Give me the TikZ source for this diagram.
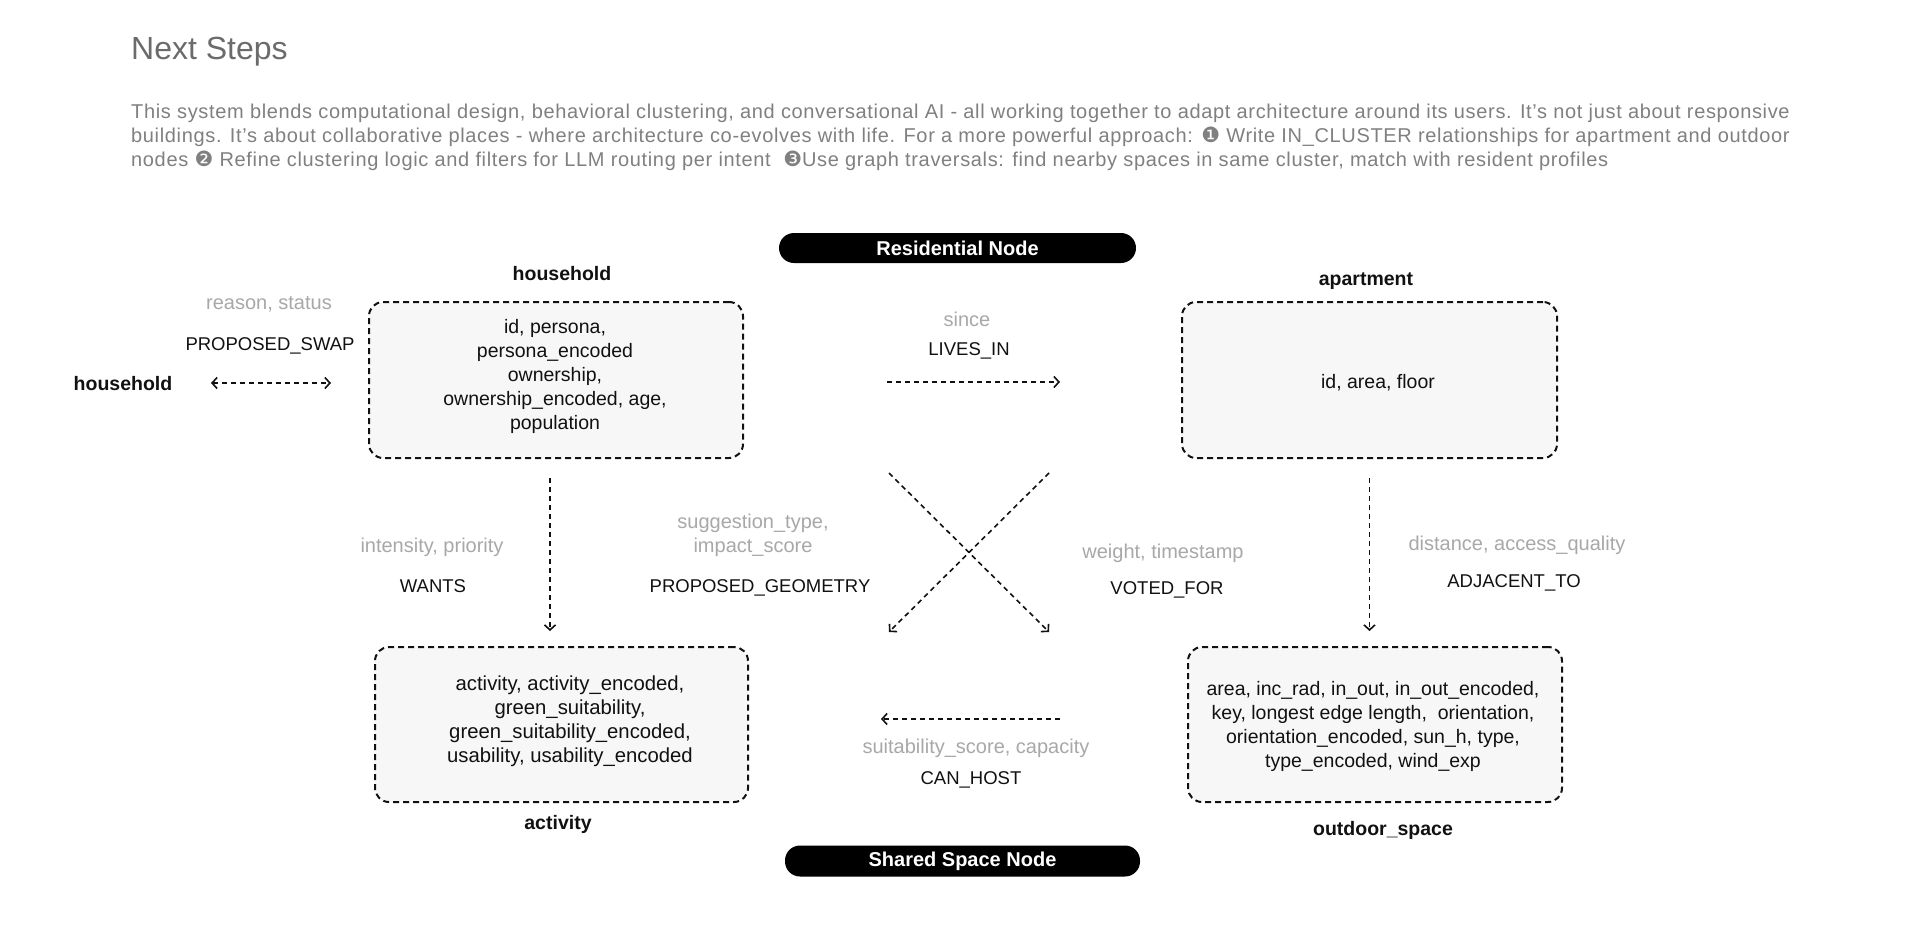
\documentclass[tikz,border=0pt]{standalone}
\usepackage{fontspec}
\setmainfont{Liberation Sans}
\newfontfamily\dejavu{DejaVu Sans}
\newfontfamily\parafont{Liberation Sans}[LetterSpace=3.3]
\usetikzlibrary{arrows.meta}
\definecolor{ink}{HTML}{111111}
\definecolor{propgray}{HTML}{A8A8A8}
\definecolor{paragray}{HTML}{808080}
\definecolor{titlegray}{HTML}{6B6B6B}
\definecolor{boxfill}{HTML}{F7F7F7}
\pgfdeclarelayer{background}
\pgfsetlayers{background,main}
\begin{document}
\begin{tikzpicture}[x=1pt,y=-1pt,
  entity/.style={draw=ink, line width=2pt, dash pattern=on 6pt off 4pt, rounded corners=14pt, fill=boxfill, inner sep=0pt},
  boxtext/.style={align=center, text=ink, inner sep=0pt, font=\fontsize{19.5}{24}\selectfont},
  entlabel/.style={anchor=base, text=ink, inner sep=0pt, font=\fontsize{19.5}{23}\selectfont\bfseries},
  relname/.style={anchor=base, text=ink, inner sep=0pt, font=\fontsize{18.5}{22}\selectfont},
  proplabel/.style={anchor=base, text=propgray, inner sep=0pt, font=\fontsize{20}{24}\selectfont},
  pill/.style={fill=black, rounded corners=15pt, text=white, inner sep=0pt, font=\fontsize{20}{23}\selectfont\bfseries},
  rel/.style={draw=ink, line width=1.6pt, dash pattern=on 5pt off 4pt, -{Straight Barb[length=5pt,width=11pt]}},
  relboth/.style={rel, {Straight Barb[length=5pt,width=11pt]}-{Straight Barb[length=5pt,width=11pt]}},
  para/.style={anchor=base west, text=paragray, inner sep=0pt, font=\parafont\fontsize{20}{24}\selectfont},
]
\useasboundingbox[fill=white] (0,0) rectangle (1920,926);

% heading and paragraph
\node[anchor=base west, text=titlegray, inner sep=0pt, font=\fontsize{32}{36}\selectfont] (title) at (131,59) {Next Steps};
\node[para] (p1) at (131,118) {This system blends computational design, behavioral clustering, and conversational AI - all working together to adapt architecture around its users. It’s not just about responsive};
\node[para] (p2) at (131,142) {buildings. It’s about collaborative places - where architecture co-evolves with life. For a more powerful approach: {\dejavu\fontsize{21}{24}\selectfont ❶} Write IN\_CLUSTER relationships for apartment and outdoor};
\node[para] (p3) at (131,166) {nodes {\dejavu\fontsize{21}{24}\selectfont ❷} Refine clustering logic and filters for LLM routing per intent\ \ {\dejavu\fontsize{21}{24}\selectfont ❸}Use graph traversals: find nearby spaces in same cluster, match with resident profiles};

% pills
\node[pill, minimum width=357pt, minimum height=30pt] (resnode) at (957.5,248) {Residential Node};
\node[pill, minimum width=355pt, minimum height=31pt] (sharednode) at (962.5,861) {Shared Space Node};

% entity boxes
\node[entity, minimum width=374pt, minimum height=156pt] (hh) at (556,380) {};
\node[entity, minimum width=375pt, minimum height=156pt] (apt) at (1369.5,380) {};
\node[entity, minimum width=373pt, minimum height=155pt] (act) at (561.5,724.5) {};
\node[entity, minimum width=374pt, minimum height=155pt] (os) at (1375,724.5) {};

\begin{pgfonlayer}{background}
\fill[boxfill] (hh.north) rectangle (apt.south);
\fill[boxfill] (act.north) rectangle (os.south);
\end{pgfonlayer}

% box contents
\node[boxtext] (hhtext) at (555,376) {id, persona,\\persona\_encoded\\ownership,\\ownership\_encoded, age,\\population};
\node[boxtext] (apttext) at (1378,383) {id, area, floor};
\node[boxtext, font=\fontsize{20.3}{24}\selectfont] (acttext) at (570,721) {activity, activity\_encoded,\\green\_suitability,\\green\_suitability\_encoded,\\usability, usability\_encoded};
\node[boxtext] (ostext) at (1373,726) {area, inc\_rad, in\_out, in\_out\_encoded,\\key, longest edge length,\ \ orientation,\\orientation\_encoded, sun\_h, type,\\type\_encoded, wind\_exp};

% entity labels
\node[entlabel] (hhlabel) at (562,280) {household};
\node[entlabel] (aptlabel) at (1366,285) {apartment};
\node[entlabel] (actlabel) at (558,829) {activity};
\node[entlabel] (oslabel) at (1383,835) {outdoor\_space};
\node[entlabel] (hhother) at (123,390) {household};

% relationship labels
\node[proplabel] (swapprop) at (269,309) {reason, status};
\node[relname] (swapname) at (270,350) {PROPOSED\_SWAP};
\node[proplabel] (livesprop) at (967,326) {since};
\node[relname] (livesname) at (969,355) {LIVES\_IN};
\node[proplabel] (wantsprop) at (432,552) {intensity, priority};
\node[relname] (wantsname) at (433,592) {WANTS};
\node[proplabel, anchor=center, align=center] (geoprop) at (753,535) {suggestion\_type,\\impact\_score};
\node[relname] (geoname) at (760,592) {PROPOSED\_GEOMETRY};
\node[proplabel] (voteprop) at (1163,558) {weight, timestamp};
\node[relname] (votename) at (1167,594) {VOTED\_FOR};
\node[proplabel] (adjprop) at (1517,550) {distance, access\_quality};
\node[relname] (adjname) at (1514,587) {ADJACENT\_TO};
\node[proplabel] (hostprop) at (976,753) {suitability\_score, capacity};
\node[relname] (hostname) at (971,784) {CAN\_HOST};

% free connector ends
\coordinate (swapL) at (211,383);
\coordinate (swapR) at (331,383);
\coordinate (livesS) at (887,382);
\coordinate (livesE) at (1060,382);
\coordinate (geoS) at (1049,473);
\coordinate (geoE) at (889,632);
\coordinate (voteS) at (889,473);
\coordinate (voteE) at (1049,632);
\coordinate (hostS) at (1060,719);
\coordinate (hostE) at (881,719);

% connectors
\draw[relboth] (swapL) -- (swapR);
\draw[rel] (livesS) -- (livesE);
\draw[rel, shorten <=19pt, shorten >=15pt] ([xshift=-6pt]hh.south) -- ([xshift=-6pt]hh.south |- act.north);
\draw[rel, shorten <=19pt, shorten >=15pt] (apt.south) -- (apt.south |- os.north);
\draw[rel] (geoS) -- (geoE);
\draw[rel] (voteS) -- (voteE);
\draw[rel] (hostS) -- (hostE);
\end{tikzpicture}
\end{document}
